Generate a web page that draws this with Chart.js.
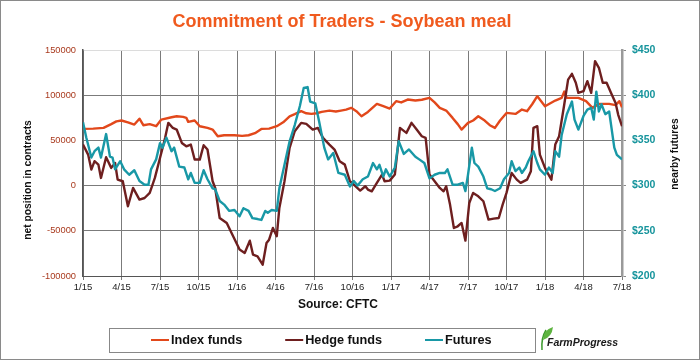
<!DOCTYPE html>
<html><head><meta charset="utf-8">
<script src="https://cdn.jsdelivr.net/npm/chart.js@4.4.0/dist/chart.umd.min.js"></script>
<style>html,body{margin:0;padding:0;background:#fff;}canvas{display:block;}</style>
</head><body>
<canvas id="c" width="700" height="360"></canvas>
<script>
const titleText = 'Commitment of Traders - Soybean meal';
const sourceText = 'Source: CFTC';
const leftAxisTitle = 'net position in contracts';
const rightAxisTitle = 'nearby futures';
const xTickLabels = ['1/15','4/15','7/15','10/15','1/16','4/16','7/16','10/16','1/17','4/17','7/17','10/17','1/18','4/18','7/18'];
const leftTicks = [-100000,-50000,0,50000,100000,150000];
const rightTicks = [200,250,300,350,400,450];
const seriesNames = ['Index funds','Hedge funds','Futures'];

// [months since Jan 2015, net contracts]
const indexFunds = [[0,62700],[0.8,63000],[1.6,63800],[2.2,68000],[2.6,71000],[3,72000],[3.5,70000],[4,67500],[4.4,74000],[4.7,66800],
[5.2,68000],[5.7,65700],[6.1,73000],[6.9,75600],[7.3,76700],[7.8,76000],[8.05,75000],[8.2,70500],[8.7,72000],[9.1,65700],
[9.7,63800],[10.1,62000],[10.5,54600],[11,55700],[11.8,55700],[12.4,55000],[12.9,55700],[13.4,58000],[13.9,62700],[14.5,63000],
[15.1,65700],[15.6,70000],[16.1,76700],[16.5,79000],[17,82300],[17.4,80000],[17.8,79300],[18.2,80000],[18.6,81500],[19.2,83000],
[19.7,82000],[20.1,83000],[20.5,84000],[20.9,86000],[21.3,82300],[21.7,76700],[22.2,81500],[22.9,90400],[23.4,87800],[23.9,85200],
[24.4,93400],[24.8,92000],[25.3,95200],[25.9,94100],[26.4,95000],[27,97000],[27.4,92000],[27.8,86000],[28.3,83000],[28.8,74900],
[29.2,68000],[29.5,62000],[30,69400],[30.4,72000],[30.8,76700],[31.3,72000],[31.7,66800],[32.1,63800],[32.5,72000],[33,80400],
[33.7,79300],[34.2,84100],[34.6,82300],[35,90000],[35.4,98900],[36,87800],[36.8,94100],[37.3,97000],[37.5,104000],[37.7,97000],
[38.6,97000],[39.2,93400],[39.7,86000],[40.2,90400],[41,90400],[41.5,89000],[41.8,93400],[42,86700]];

const hedgeFunds = [[0,45400],[0.4,34300],[0.65,17700],[0.9,27000],[1.2,23200],[1.4,8500],[1.8,31400],[2.2,19600],[2.5,25000],[2.7,6600],
[3.1,4800],[3.5,-22900],[3.9,-2600],[4.4,-15500],[4.8,-13700],[5.2,-8100],[5.6,8500],[6,30600],[6.4,52800],[6.65,69400],
[7,63800],[7.3,62000],[7.7,47200],[8.05,43500],[8.4,45400],[8.7,28800],[9.1,28800],[9.4,44600],[9.7,39900],[10.1,4800],
[10.3,-2600],[10.65,-35800],[11.2,-41300],[11.7,-56000],[12.2,-70800],[12.6,-74500],[13,-60900],[13.25,-76400],[13.6,-78200],[14,-87500],
[14.3,-63500],[14.5,-59800],[14.8,-46900],[15.1,-56000],[15.3,-24700],[15.7,4800],[16.1,41700],[16.5,60100],[17,69400],[17.4,68300],
[17.9,62000],[18.3,63800],[18.7,52800],[19.2,45400],[19.6,39900],[20,26900],[20.4,23200],[20.8,4800],[21.1,1100],[21.6,-5500],
[22,-700],[22.2,-4400],[22.5,-6300],[22.9,3000],[23.3,12200],[23.5,4800],[23.9,5500],[24.3,12200],[24.7,63800],[25.2,58300],
[25.6,69400],[26,62000],[26.4,54600],[26.7,52800],[27,12200],[27.4,4800],[27.8,-2600],[28.1,-6300],[28.3,-700],[28.6,-21000],
[28.9,-46900],[29.2,-45000],[29.5,-41300],[29.8,-60900],[30.1,-19200],[30.4,-8100],[30.8,-11800],[31.2,-17300],[31.6,-37600],[32,-36500],
[32.4,-35800],[32.7,-21000],[33,-8100],[33.4,14000],[33.8,6600],[34.1,3000],[34.6,6600],[34.9,15900],[35.1,63800],[35.4,65700],
[35.6,34300],[36,19600],[36.2,14000],[36.5,6600],[36.8,45400],[37.1,54600],[37.5,89700],[37.8,117300],[38.1,123600],[38.4,113700],
[38.6,102600],[39,104400],[39.3,115500],[39.6,102600],[39.9,137600],[40.2,130300],[40.5,113700],[40.8,113700],[41.2,100700],[41.5,91500],
[41.7,78600],[42,65700]];

// [months since Jan 2015, nearby futures $/ton]
const futures = [[0,370],[0.26,353],[0.65,331],[0.9,338],[1.2,342],[1.4,331],[1.8,357],[2.1,332],[2.3,331],[2.5,318],
[2.9,327],[3.2,318],[3.6,312],[4,317],[4.4,305],[4.8,301],[5.1,301],[5.3,318],[5.7,329],[6,347],
[6.2,342],[6.5,353],[6.9,338],[7.1,342],[7.5,321],[7.9,320],[8.2,307],[8.4,314],[8.7,303],[9.1,303],
[9.4,317],[9.7,307],[10.1,297],[10.3,296],[10.65,283],[11,279],[11.4,272],[11.8,273],[12.2,266],[12.5,275],
[12.9,272],[13.2,264],[13.6,263],[13.9,262],[14.2,272],[14.4,270],[14.7,273],[15.1,272],[15.3,297],[15.7,323],
[16.1,349],[16.5,367],[16.9,388],[17.2,408],[17.5,409],[17.7,393],[18.1,391],[18.4,371],[18.8,342],[19.1,329],
[19.5,336],[19.9,314],[20.4,312],[20.8,299],[21.1,305],[21.4,300],[21.8,307],[22.2,310],[22.6,325],[22.9,318],
[23.1,323],[23.4,310],[23.6,318],[23.9,310],[24.3,320],[24.6,349],[25,335],[25.4,340],[25.9,332],[26.2,329],
[26.6,325],[27,308],[27.4,312],[27.8,314],[28.2,314],[28.4,318],[28.8,301],[29.2,301],[29.6,303],[29.8,294],
[30,312],[30.3,342],[30.5,325],[30.8,321],[31.2,310],[31.5,297],[31.8,296],[32.1,294],[32.5,297],[32.8,307],
[33.2,314],[33.4,327],[33.7,316],[34,320],[34.2,314],[34.5,320],[34.7,327],[35.1,338],[35.4,325],[35.6,318],
[36,312],[36.3,320],[36.6,314],[36.8,338],[37.1,332],[37.3,356],[37.7,379],[38.1,393],[38.3,373],[38.6,362],
[39,377],[39.3,384],[39.6,386],[39.8,373],[40,404],[40.2,382],[40.4,390],[40.7,379],[41,382],[41.4,342],
[41.6,334],[42,329]];

const FONT = "'Liberation Sans', Arial, Helvetica, sans-serif";
const colors = ['#E2481B', '#6E1F1F', '#1898A6'];

const toXY = arr => arr.map(p => ({x: p[0], y: p[1]}));

const decor = {
  id: 'decor',
  beforeDraw(chart) {
    const ctx = chart.ctx;
    ctx.save();
    ctx.fillStyle = '#fff';
    ctx.fillRect(0, 0, chart.width, chart.height);
    ctx.restore();
  },
  afterDraw(chart) {
    const ctx = chart.ctx;
    ctx.save();
    // frame
    ctx.strokeStyle = '#8a8a8a'; ctx.lineWidth = 1;
    ctx.strokeRect(0.5, 0.5, chart.width - 1, chart.height - 1);
    // title
    ctx.fillStyle = '#F05A1E';
    ctx.font = 'bold 18px ' + FONT;
    ctx.textAlign = 'center'; ctx.textBaseline = 'middle';
    ctx.fillText(titleText, 342, 22);
    // source
    ctx.fillStyle = '#111';
    ctx.font = 'bold 12px ' + FONT;
    ctx.fillText(sourceText, 338, 305);
    // axis titles
    ctx.font = 'bold 10.3px ' + FONT;
    ctx.save(); ctx.translate(28, 180); ctx.rotate(-Math.PI/2); ctx.fillText(leftAxisTitle, 0, 0); ctx.restore();
    ctx.save(); ctx.translate(675, 154); ctx.rotate(-Math.PI/2); ctx.fillText(rightAxisTitle, 0, 0); ctx.restore();
    // legend
    const lx0 = 109, lx1 = 535, ly0 = 328, ly1 = 352, lyc = 340;
    ctx.strokeStyle = '#888'; ctx.lineWidth = 1;
    ctx.strokeRect(lx0 + 0.5, ly0 + 0.5, lx1 - lx0, ly1 - ly0);
    ctx.font = 'bold 12.7px ' + FONT;
    ctx.textAlign = 'left';
    let x = 151;
    chart.data.datasets.forEach(ds => {
      ctx.strokeStyle = ds.borderColor; ctx.lineWidth = 2;
      ctx.beginPath(); ctx.moveTo(x, lyc); ctx.lineTo(x + 18, lyc); ctx.stroke();
      ctx.fillStyle = '#111';
      ctx.fillText(ds.label, x + 20, lyc + 0.5);
      x += 20 + ctx.measureText(ds.label).width + 43;
    });
    // logo
    ctx.strokeStyle = '#3C9A2E'; ctx.fillStyle = '#5DB33F'; ctx.lineWidth = 1.5;
    ctx.beginPath();
    ctx.moveTo(542, 350); ctx.quadraticCurveTo(541, 338, 546, 330);
    ctx.stroke();
    ctx.beginPath();
    ctx.moveTo(543, 340); ctx.quadraticCurveTo(543, 330, 553, 327); ctx.quadraticCurveTo(552, 337, 543, 340);
    ctx.fill();
    ctx.fillStyle = '#1a1a1a';
    ctx.font = 'italic bold 10.5px ' + FONT;
    ctx.textBaseline = 'alphabetic';
    ctx.fillText('FarmProgress', 547, 346);
    ctx.restore();
  }
};

new Chart(document.getElementById('c'), {
  type: 'line',
  data: {
    datasets: [
      { label: seriesNames[0], data: toXY(indexFunds), borderColor: colors[0], yAxisID: 'y', order: 3 },
      { label: seriesNames[1], data: toXY(hedgeFunds), borderColor: colors[1], yAxisID: 'y', order: 2 },
      { label: seriesNames[2], data: toXY(futures), borderColor: colors[2], yAxisID: 'y1', order: 1 }
    ]
  },
  options: {
    responsive: false, animation: false,
    layout: { padding: { left: 0, right: 0, top: 50, bottom: 64 } },
    elements: { point: { radius: 0 }, line: { borderWidth: 2.4, tension: 0, fill: false, borderJoinStyle: 'round' } },
    plugins: { legend: { display: false }, tooltip: { enabled: false }, title: { display: false } },
    scales: {
      x: {
        type: 'linear', min: 0, max: 42,
        afterBuildTicks: s => { s.ticks = xTickLabels.map((_, i) => ({ value: i * 3 })); },
        afterFit: s => { s.height = 20; },
        ticks: { callback: v => xTickLabels[Math.round(v / 3)], font: { family: FONT, size: 9.5 }, color: '#222', padding: 2, maxRotation: 0, autoSkip: false },
        grid: { color: '#7b7b7b', lineWidth: 1, drawTicks: true, tickLength: 4, tickColor: '#7b7b7b' },
        border: { color: '#555', width: 1 }
      },
      y: {
        position: 'left', min: -100000, max: 150000,
        afterBuildTicks: s => { s.ticks = leftTicks.map(v => ({ value: v })); },
        afterFit: s => { s.width = 83; },
        ticks: { callback: v => String(v), font: { family: FONT, size: 9.3 }, color: '#A93A1E', padding: 7 },
        grid: { color: c => (c.tick && c.tick.value === 150000) ? '#dcdcdc' : '#7b7b7b', lineWidth: 1, drawTicks: false },
        border: { color: '#555', width: 1.5 }
      },
      y1: {
        position: 'right', min: 200, max: 450,
        afterBuildTicks: s => { s.ticks = rightTicks.map(v => ({ value: v })); },
        afterFit: s => { s.width = 78; },
        ticks: { callback: v => '$' + v, font: { family: FONT, size: 10.5, weight: 'bold' }, color: '#16949C', padding: 6 },
        grid: { drawOnChartArea: false, drawTicks: true, tickLength: 4, color: '#888' },
        border: { color: '#9a9a9a', width: 2.5 }
      }
    }
  },
  plugins: [decor]
});
</script>
</body></html>
